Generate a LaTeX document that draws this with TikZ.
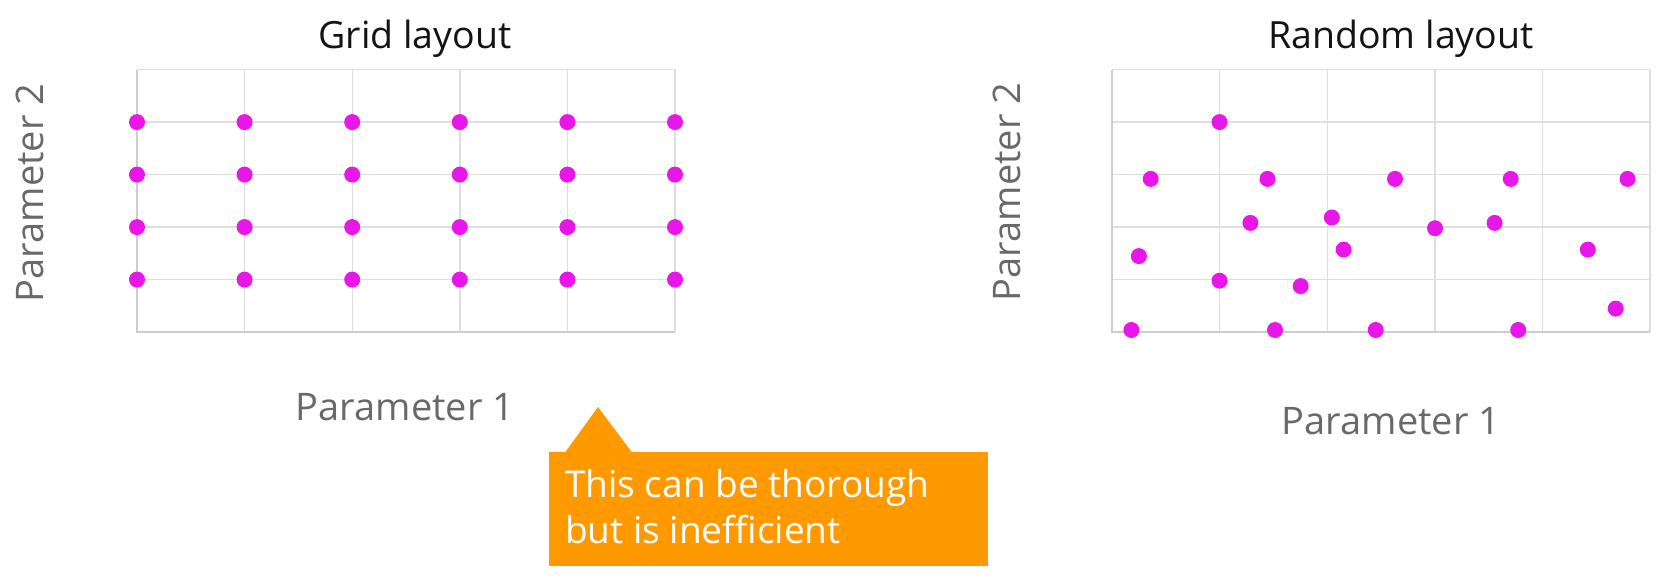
\documentclass[tikz,border=0pt]{standalone}
\usepackage{fontspec}
\setmainfont{Open Sans}
\usetikzlibrary{calc}
\definecolor{gridc}{RGB}{222,222,222}
\definecolor{axisc}{RGB}{205,205,205}
\definecolor{dotc}{RGB}{232,22,232}
\definecolor{labc}{RGB}{105,105,105}
\definecolor{callc}{RGB}{255,153,0}
\tikzset{
  gridline/.style={draw=gridc, line width=1.4pt},
  axisline/.style={draw=axisc, line width=1.8pt},
  pt/.style={circle, fill=dotc, inner sep=0pt, minimum width=15pt, minimum height=16pt},
  ttl/.style={font=\fontsize{37.5}{42}\selectfont, text=black!92},
  axlab/.style={font=\fontsize{38}{44}\selectfont, text=labc},
  callout/.style={fill=callc, minimum width=439pt, minimum height=114pt, inner sep=0pt},
  calltext/.style={font=\fontsize{37}{46}\selectfont, text=white, align=left, inner sep=0pt}
}
\begin{document}
\begin{tikzpicture}[x=1pt,y=-1pt]
\useasboundingbox (0,0) rectangle (1680,583);

% ---------- grid layout ----------
\foreach \i in {0,...,5}{
  \draw[gridline] ({137+107.6*\i},69.6) -- ({137+107.6*\i},332.1);
  \draw[gridline] (137,{69.6+52.5*\i}) -- (675,{69.6+52.5*\i});
}
\draw[axisline] (137,69.6) -- (137,332.1) -- (675,332.1);
\foreach \c in {0,...,5}{
  \foreach \r in {1,...,4}{
    \node[pt] (g-\c-\r) at ({137+107.6*\c},{69.6+52.5*\r}) {};
  }
}
\node[ttl] (gtitle) at (415,39) {Grid layout};
\node[axlab, rotate=90] (gy) at (30,193) {Parameter 2};
\node[axlab] (gx) at (405,407) {Parameter 1};

% ---------- random layout ----------
\foreach \i in {0,...,5}{
  \draw[gridline] ({1112+107.6*\i},69.6) -- ({1112+107.6*\i},332.1);
  \draw[gridline] (1112,{69.6+52.5*\i}) -- (1650,{69.6+52.5*\i});
}
\draw[axisline] (1112,69.6) -- (1112,332.1) -- (1650,332.1);
\foreach \x/\y [count=\k] in {
  1219.5/122.1, 1150.7/178.9, 1267.5/178.9, 1395/178.9, 1510.7/178.9, 1627.5/178.9,
  1250.4/222.9, 1331.8/217.5, 1435/228.2, 1494.6/222.9,
  1138.9/256.1, 1343.6/249.6, 1587.8/249.6,
  1219.5/280.7, 1300.7/286.1, 1615.7/308.6,
  1131.4/330, 1275/330, 1375.7/330, 1518.2/330}{
  \node[pt] (r-\k) at (\x,\y) {};
}
\node[ttl] (rtitle) at (1401,39) {Random layout};
\node[axlab, rotate=90] (ry) at (1007,192) {Parameter 2};
\node[axlab] (rx) at (1391,421) {Parameter 1};

% ---------- callout ----------
\node[callout, anchor=north west] (note) at (549,452) {};
\fill[callc] ($(note.north west)+(16,0.5)$) -- ($(note.north west)+(49,-45)$) -- ($(note.north west)+(83,0.5)$) -- cycle;
\node[calltext, anchor=north west] (notetext) at ($(note.north west)+(16,17)$)
  {This can be thorough\\but is inefficient};
\end{tikzpicture}
\end{document}
